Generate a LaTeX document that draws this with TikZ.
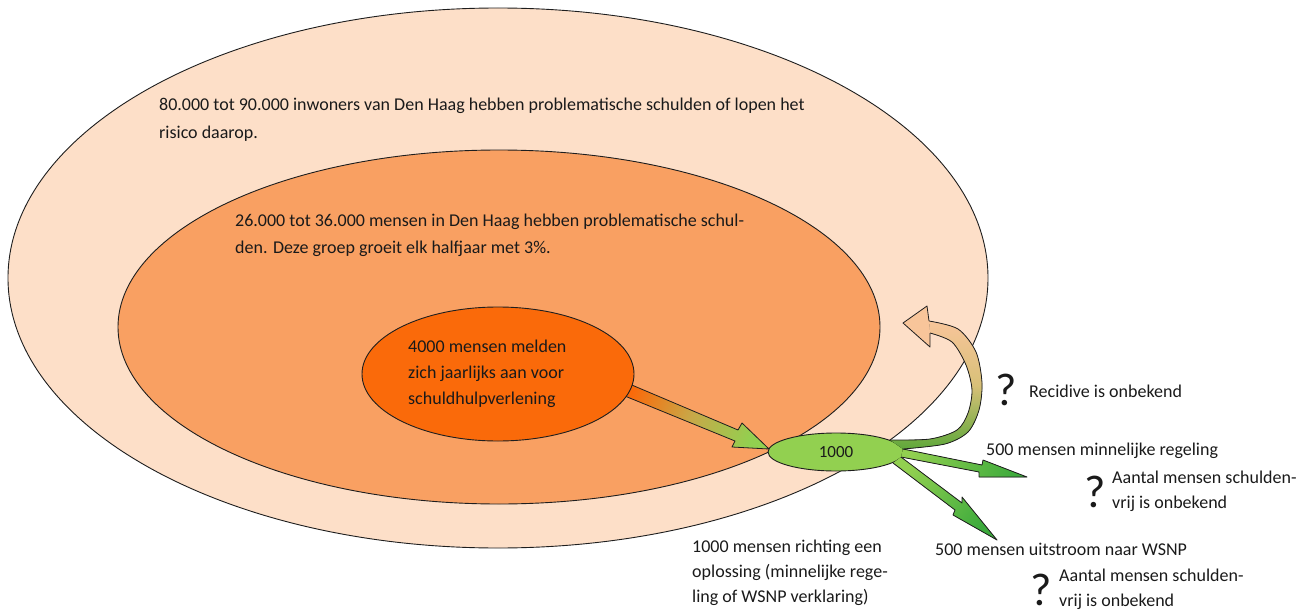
\documentclass[tikz,border=0pt]{standalone}
\usepackage{fontspec}
\setmainfont{Carlito}
\usetikzlibrary{shapes.geometric}
\definecolor{outerfill}{HTML}{FDDFC8}
\definecolor{midfill}{HTML}{F9A062}
\definecolor{corefill}{HTML}{FA6A0A}
\definecolor{greenfill}{HTML}{92D050}
\definecolor{darkgreen}{HTML}{3CAA3C}
\definecolor{peach}{HTML}{F8C59A}
\definecolor{olive}{HTML}{C8A848}
\definecolor{tan}{HTML}{D8C078}
\definecolor{curvegreen}{HTML}{5FA83A}
\definecolor{lineclr}{HTML}{1E1E1E}
\definecolor{txt}{HTML}{1A1A1A}
\begin{document}
\begin{tikzpicture}[x=1pt,y=-1pt,
  blob/.style={ellipse, draw=lineclr, line width=0.9pt, inner sep=0pt},
  lbl/.style={anchor=base west, inner sep=0pt, text=txt, font=\fontsize{18}{22}\selectfont},
  qm/.style={anchor=base west, inner sep=0pt, text=txt, font=\fontsize{46}{50}\selectfont},
  outl/.style={draw=lineclr, line width=0.8pt, line join=round}]
\useasboundingbox (0,0) rectangle (1314,615);

% ellipses
\node[blob, fill=outerfill, minimum width=980pt, minimum height=540pt] (outer) at (498,278) {};
\node[blob, fill=midfill, minimum width=762pt, minimum height=354pt] (mid) at (499,327) {};

% arrow from core to hub
\path[outl, top color=corefill, bottom color=greenfill, middle color=olive, shading angle=67]
  (620,380) -- (738,430) -- (742,423) -- (769,449) -- (732,447) -- (735,441) -- (615,392) -- cycle;

\node[blob, fill=corefill, minimum width=272pt, minimum height=134pt] (core) at (498,374) {};
\node[blob, fill=greenfill, minimum width=136pt, minimum height=38pt, text=txt, font=\fontsize{17}{20}\selectfont] (hub) at (836,452) {1000};

% arrow to WSNP
\fill[top color=greenfill, bottom color=darkgreen, shading angle=51]
  (901,457) -- (962,503) -- (962,497) -- (997,540) -- (953,515) -- (955,510) -- (893,463) -- cycle;
\draw[outl] (901,457) -- (962,503) -- (962,497) -- (997,540) -- (953,515) -- (955,510) -- (893,463);

% arrow to minnelijke regeling
\fill[top color=greenfill, bottom color=darkgreen, shading angle=79]
  (903,449) -- (982,465) -- (983,460) -- (1027,477) -- (979,477) -- (979,472) -- (901,457) -- cycle;
\draw[outl] (903,449) -- (982,465) -- (983,460) -- (1027,477) -- (979,477) -- (979,472) -- (901,457);

% curved arrow (recidive)
\fill[top color=peach, bottom color=curvegreen, middle color=tan]
  plot[smooth] coordinates {(929,321) (958,329) (976,352) (982,383) (979,410) (968,432) (945,444) (903,449)}
  -- plot[smooth] coordinates {(890,440) (930,439) (957,430) (968,413) (972,390) (966,365) (952,342) (930,333)}
  -- cycle;
\draw[outl] plot[smooth] coordinates {(929,321) (958,329) (976,352) (982,383) (979,410) (968,432) (945,444) (903,449)};
\draw[outl] plot[smooth] coordinates {(890,440) (930,439) (957,430) (968,413) (972,390) (966,365) (952,342) (930,333)};
\path[outl, fill=peach] (930,333) -- (930,347) -- (903,323) -- (927,306) -- (929,321);

% texts
\node[lbl] (t1a) at (159,111) {80.000 tot 90.000 inwoners van Den Haag hebben problematische schulden of lopen het};
\node[lbl] (t1b) at (159,139) {risico daarop.};
\node[lbl] (t2a) at (235,226) {26.000 tot 36.000 mensen in Den Haag hebben problematische schul-};
\node[lbl] (t2b) at (235,253) {den. Deze groep groeit elk halfjaar met 3\%.};
\node[lbl] (t3a) at (408,352) {4000 mensen melden};
\node[lbl] (t3b) at (408,378) {zich jaarlijks aan voor};
\node[lbl] (t3c) at (408,404) {schuldhulpverlening};
\node[lbl] (t4a) at (692,552) {1000 mensen richting een};
\node[lbl] (t4b) at (692,577) {oplossing (minnelijke rege-};
\node[lbl] (t4c) at (692,602) {ling of WSNP verklaring)};
\node[qm] (q1) at (995,405) {?};
\node[lbl] (r1) at (1029,397) {Recidive is onbekend};
\node[lbl] (r2) at (986,455) {500 mensen minnelijke regeling};
\node[qm] (q2) at (1084,507) {?};
\node[lbl] (r3a) at (1112,483) {Aantal mensen schulden-};
\node[lbl] (r3b) at (1112,508) {vrij is onbekend};
\node[lbl] (r4) at (935,555) {500 mensen uitstroom naar WSNP};
\node[qm] (q3) at (1030,605) {?};
\node[lbl] (r5a) at (1059,581) {Aantal mensen schulden-};
\node[lbl] (r5b) at (1059,606) {vrij is onbekend};
\end{tikzpicture}
\end{document}
